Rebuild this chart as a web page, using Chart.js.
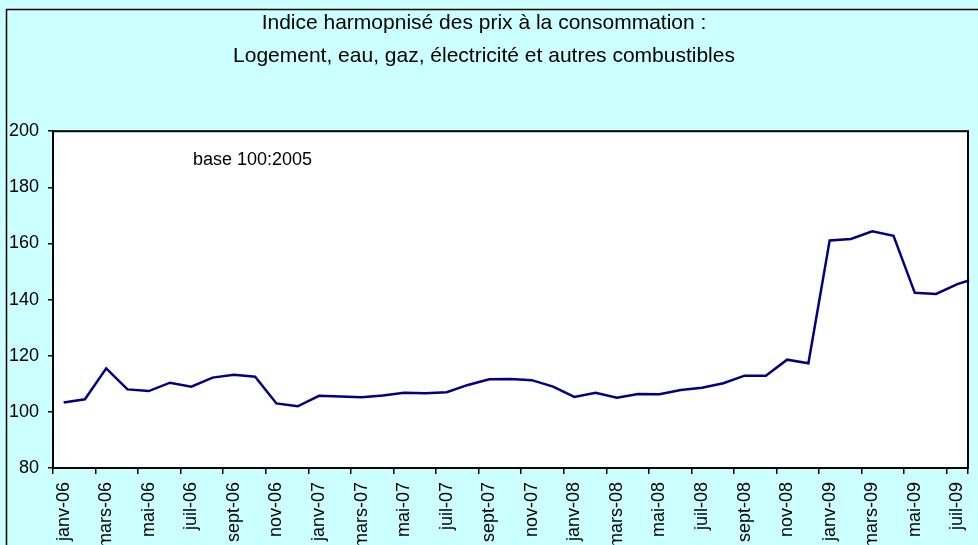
<!DOCTYPE html>
<html lang="fr">
<head>
<meta charset="utf-8">
<title>Indice harmonisé des prix à la consommation</title>
<script src="https://cdn.jsdelivr.net/npm/chart.js@4/dist/chart.umd.min.js"></script>
<style>
    html, body { margin: 0; padding: 0; background: #ccffff; }
    #wrap { width: 978px; height: 545px; }
</style>
</head>
<body>
<div id="wrap"><canvas id="ipch"></canvas></div>
<script>
// Mois (janv-06 à août-09) et valeurs de l'indice, base 100 en 2005
const mois = [
    'janv-06', 'févr-06', 'mars-06', 'avr-06', 'mai-06', 'juin-06',
    'juil-06', 'août-06', 'sept-06', 'oct-06', 'nov-06', 'déc-06',
    'janv-07', 'févr-07', 'mars-07', 'avr-07', 'mai-07', 'juin-07',
    'juil-07', 'août-07', 'sept-07', 'oct-07', 'nov-07', 'déc-07',
    'janv-08', 'févr-08', 'mars-08', 'avr-08', 'mai-08', 'juin-08',
    'juil-08', 'août-08', 'sept-08', 'oct-08', 'nov-08', 'déc-08',
    'janv-09', 'févr-09', 'mars-09', 'avr-09', 'mai-09', 'juin-09',
    'juil-09', 'août-09'
];
const indice = [
    103.3, 104.5, 115.5, 108.0, 107.4, 110.4,
    109.0, 112.2, 113.2, 112.5, 103.0, 102.0,
    105.7, 105.5, 105.2, 105.8, 106.8, 106.6,
    107.0, 109.6, 111.6, 111.7, 111.3, 109.0,
    105.3, 106.8, 105.0, 106.4, 106.3, 107.8,
    108.6, 110.2, 112.9, 112.9, 118.6, 117.3,
    161.1, 161.6, 164.3, 162.7, 142.4, 142.0,
    145.5, 147.9
];
// l'axe s'arrête à juil-09, le segment vers août-09 est coupé au bord
const dernierMoisAffiche = 'juil-09';
const yTicks = { min: 80, max: 200, pas: 20 };
const titre = [
    'Indice harmopnisé des prix à la consommation :',
    'Logement, eau, gaz, électricité et autres combustibles'
];
const mention = 'base 100:2005';

const police = "'Liberation Sans', Arial, sans-serif";

// fond du graphique, zone de tracé blanche, cadres noirs
const cadres = {
    id: 'cadres',
    beforeDraw(chart) {
        const { ctx, chartArea: a, width, height } = chart;
        ctx.save();
        ctx.fillStyle = '#ccffff';
        ctx.fillRect(0, 0, width, height);
        ctx.fillStyle = '#ffffff';
        ctx.fillRect(a.left, a.top, a.right - a.left, a.bottom - a.top);
        ctx.strokeStyle = '#000000';
        ctx.lineWidth = 1.5;
        ctx.beginPath();
        ctx.moveTo(6.5, height);
        ctx.lineTo(6.5, 9.5);
        ctx.lineTo(width, 9.5);
        ctx.stroke();
        ctx.restore();
    },
    afterDatasetsDraw(chart) {
        const { ctx, chartArea: a } = chart;
        ctx.save();
        ctx.strokeStyle = '#000000';
        ctx.lineWidth = 2;
        ctx.strokeRect(a.left, a.top, a.right - a.left, a.bottom - a.top);
        ctx.fillStyle = '#000000';
        ctx.font = '18px ' + police;
        ctx.textBaseline = 'alphabetic';
        ctx.fillText(mention, a.left + 140, a.top + 34);
        ctx.restore();
    }
};

new Chart(document.getElementById('ipch'), {
    type: 'line',
    data: {
        labels: mois,
        datasets: [{
            data: indice,
            borderColor: '#000080',
            borderWidth: 2.5,
            pointRadius: 0,
            tension: 0,
            fill: false
        }]
    },
    options: {
        responsive: true,
        maintainAspectRatio: false,
        devicePixelRatio: 1,
        animation: false,
        layout: { padding: { left: 0, right: 10, top: 0, bottom: 0 } },
        plugins: {
            legend: { display: false },
            tooltip: { enabled: false },
            title: {
                display: true,
                text: titre,
                color: '#000000',
                font: { family: police, size: 21, weight: 'normal', lineHeight: 1.6 },
                padding: { top: 6, bottom: 58 }
            }
        },
        scales: {
            x: {
                type: 'category',
                offset: true,
                afterDataLimits(scale) {
                    scale.max = mois.indexOf(dernierMoisAffiche);
                },
                afterFit(scale) {
                    scale.height = 77;
                    // les étiquettes verticales ne doivent pas rétrécir la zone de tracé
                    scale.paddingLeft = 0;
                    scale.paddingRight = 0;
                },
                border: { display: false },
                grid: {
                    offset: true,
                    drawOnChartArea: false,
                    tickLength: 6,
                    lineWidth: 1.5,
                    tickColor: ctx => (ctx.index % 2 ? 'rgba(0,0,0,0)' : '#000000')
                },
                ticks: {
                    autoSkip: false,
                    minRotation: 90,
                    maxRotation: 90,
                    padding: 8,
                    color: '#000000',
                    font: { family: police, size: 18 },
                    callback(value, index) {
                        return index % 2 ? '' : this.getLabelForValue(value);
                    }
                }
            },
            y: {
                min: yTicks.min,
                max: yTicks.max,
                afterFit(scale) { scale.width = 53; },
                border: { display: false },
                grid: {
                    drawOnChartArea: false,
                    tickLength: 5,
                    lineWidth: 1.5,
                    tickColor: '#000000'
                },
                ticks: {
                    stepSize: yTicks.pas,
                    padding: 9,
                    color: '#000000',
                    font: { family: police, size: 18 }
                }
            }
        }
    },
    plugins: [cadres]
});
</script>
</body>
</html>
